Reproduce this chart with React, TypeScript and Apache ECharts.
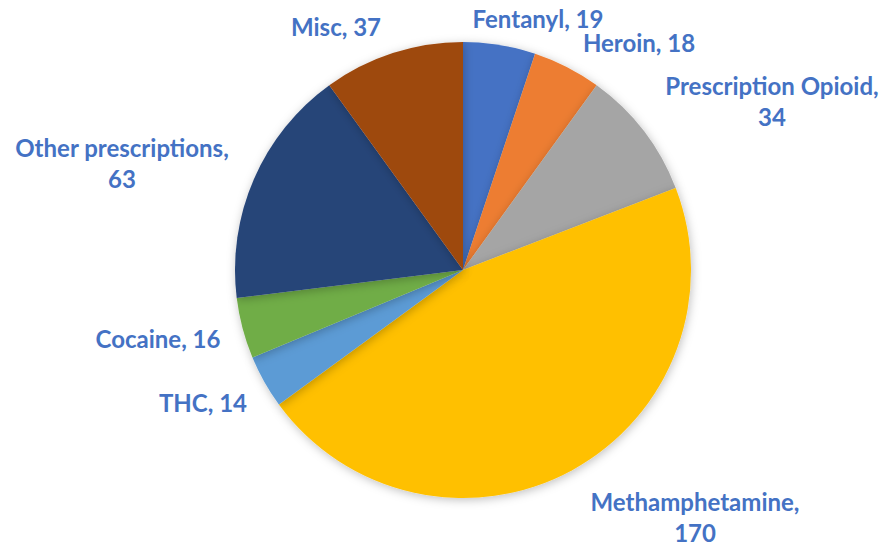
import React, { useEffect, useRef } from "react";
import * as echarts from "echarts";

const categories = [
  "Fentanyl",
  "Heroin",
  "Prescription Opioid",
  "Methamphetamine",
  "THC",
  "Cocaine",
  "Other prescriptions",
  "Misc",
];
const values = [19, 18, 34, 170, 14, 16, 63, 37];
const colors = ["#4472C4", "#ED7D31", "#A5A5A5", "#FFC000", "#5B9BD5", "#70AD47", "#264478", "#9E480E"];

// label layout (pixel placement of data labels, per slice)
const labelPos: [number, number][] = [
  [538, 18],
  [639, 42],
  [772, 101],
  [695, 517],
  [203, 402],
  [158, 338],
  [122, 163],
  [336, 26],
];
const wrapLabel = [false, false, true, true, false, false, true, false];

export default function App() {
  const ref = useRef<HTMLDivElement>(null);
  useEffect(() => {
    if (!ref.current) return;
    const chart = echarts.init(ref.current, null, { renderer: "svg" });
    chart.setOption({
      animation: false,
      backgroundColor: "#ffffff",
      series: [
        {
          type: "pie",
          center: [463, 270],
          radius: 228,
          startAngle: 90,
          clockwise: true,
          avoidLabelOverlap: false,
          data: categories.map((c, i) => ({
            name: c,
            value: values[i],
            itemStyle: { color: colors[i] },
          })),
          itemStyle: {
            borderWidth: 0,
            shadowBlur: 10,
            shadowColor: "rgba(0,0,0,0.25)",
            shadowOffsetX: 1,
            shadowOffsetY: 2,
          },
          label: {
            show: true,
            position: "outside",
            color: "#4472C4",
            fontFamily: "Lato",
            fontWeight: "bold",
            fontSize: 24,
            lineHeight: 31,
            align: "center",
            formatter: (p: any) =>
              p.name + "," + (wrapLabel[p.dataIndex] ? "\n" : " ") + p.value,
          },
          labelLine: { show: false },
          labelLayout: (p: any) => ({
            x: labelPos[p.dataIndex][0],
            y: labelPos[p.dataIndex][1],
            align: "center",
            verticalAlign: "middle",
          }),
          emphasis: { disabled: true },
        },
      ],
    });
    return () => chart.dispose();
  }, []);
  return (
    <div
      ref={ref}
      style={{ position: "fixed", left: 0, top: 0, width: 887, height: 546 }}
    />
  );
}
